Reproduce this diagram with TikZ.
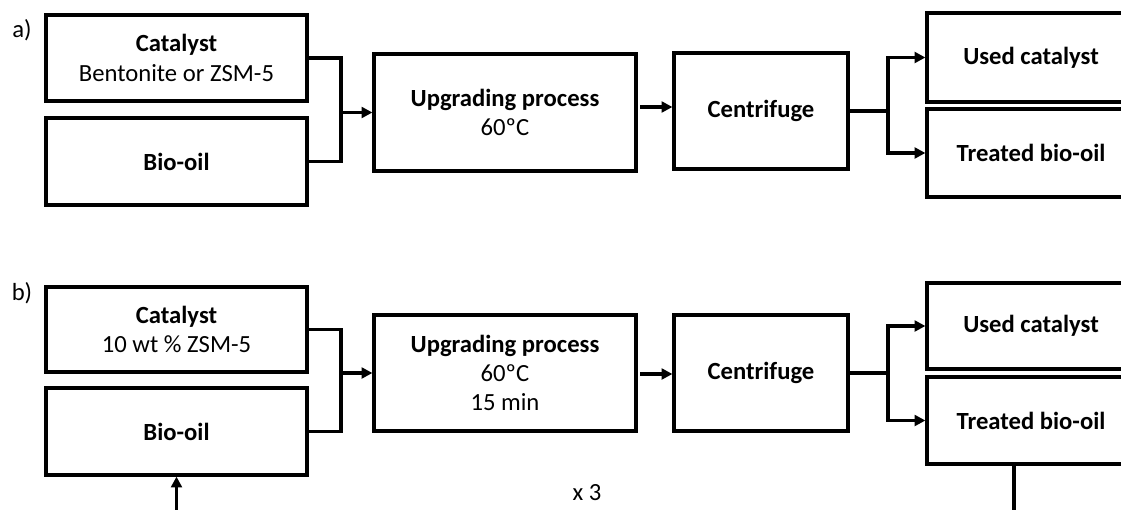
\documentclass[tikz,border=0pt]{standalone}
\usepackage{fontspec}
\setmainfont{Carlito}
\usetikzlibrary{arrows.meta,calc}
\tikzset{
  box/.style={draw=black, line width=2.4pt, rectangle, inner sep=0pt, align=center,
    font=\fontsize{18.5}{22}\selectfont},
  conn/.style={line width=2.4pt, black, line join=miter},
  arr/.style={conn, -{Triangle[length=8pt,width=8pt]}},
  lbl/.style={font=\fontsize{18.5}{20}\selectfont, inner sep=0pt}
}
\begin{document}
\begin{tikzpicture}[x=0.75pt,y=-0.75pt]
\useasboundingbox (0,0) rectangle (1121,510);
\clip (0,0) rectangle (1121,510);
\fill[white] (0,0) rectangle (1121,510);

% ---- a) ----
\node[lbl] (la) at (22,30) {a)};
\node[box, minimum width=261*0.75pt, minimum height=86*0.75pt] (cata) at (176.5,58) {\textbf{Catalyst}\\Bentonite or ZSM-5};
\node[box, minimum width=261*0.75pt, minimum height=87*0.75pt] (bioa) at (176.5,161.5) {\textbf{Bio-oil}};
\node[box, minimum width=262*0.75pt, minimum height=117*0.75pt] (upa) at (505,112.5) {\textbf{Upgrading process}\\60ºC};
\node[box, minimum width=174*0.75pt, minimum height=116*0.75pt] (cena) at (761,111) {\textbf{Centrifuge}};
\node[box, minimum width=208*0.75pt, minimum height=89*0.75pt] (usea) at (1031,57.5) {\textbf{Used catalyst}};
\node[box, minimum width=208*0.75pt, minimum height=88*0.75pt] (trea) at (1031,153) {\textbf{Treated bio-oil}};

\coordinate (ma) at (341,112);
\draw[conn] (cata.east) -| (ma) |- (bioa.east);
\draw[arr] (ma |- upa.west) -- (upa.west);
\coordinate (aa) at (640,107);
\draw[arr] (aa) -- (cena.west |- aa);
\coordinate (sa) at (888,111);
\draw[conn] (cena.east) -- (sa);
\draw[arr] (sa) |- (usea.west);
\draw[arr] (sa) |- (trea.west);

% ---- b) ----
\node[lbl] (lb) at (22,293) {b)};
\node[box, minimum width=261*0.75pt, minimum height=85*0.75pt] (catb) at (176.5,329.5) {\textbf{Catalyst}\\10 wt \% ZSM-5};
\node[box, minimum width=261*0.75pt, minimum height=87*0.75pt] (biob) at (176.5,431.5) {\textbf{Bio-oil}};
\node[box, minimum width=262*0.75pt, minimum height=116*0.75pt] (upb) at (505,373) {\textbf{Upgrading process}\\60ºC\\15 min};
\node[box, minimum width=174*0.75pt, minimum height=116*0.75pt] (cenb) at (761,373) {\textbf{Centrifuge}};
\node[box, minimum width=208*0.75pt, minimum height=86*0.75pt] (useb) at (1031,326) {\textbf{Used catalyst}};
\node[box, minimum width=208*0.75pt, minimum height=87*0.75pt] (treb) at (1031,420.5) {\textbf{Treated bio-oil}};

\coordinate (mb) at (341,373);
\draw[conn] (catb.east) -| (mb) |- (biob.east);
\draw[arr] (mb |- upb.west) -- (upb.west);
\coordinate (ab) at (640,374);
\draw[arr] (ab) -- (cenb.west |- ab);
\coordinate (sb) at (888,373);
\draw[conn] (cenb.east) -- (sb);
\draw[arr] (sb) |- (useb.west);
\draw[arr] (sb) |- (treb.west);

\coordinate (loopA) at (1014,515);
\coordinate (loopB) at (176.5,515);
\draw[conn] (treb.south -| loopA) -- (loopA);
\draw[arr] (loopB) -- (biob.south);
\node[lbl] (x3) at (587,493) {x 3};
\end{tikzpicture}
\end{document}
